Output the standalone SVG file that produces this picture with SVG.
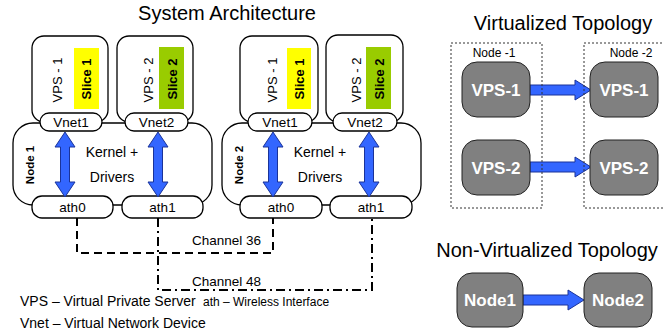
<svg xmlns="http://www.w3.org/2000/svg" width="663" height="335" viewBox="0 0 663 335">
<style>
text{font-family:"Liberation Sans",Arial,sans-serif;fill:#000}
.title{font-size:20px;text-anchor:middle}
.box{fill:#fff;stroke:#000;stroke-width:1.3}
.lbl{font-size:13.5px;text-anchor:middle}
.vert{font-size:13px;text-anchor:middle}
.slice{font-size:13px;font-weight:bold;text-anchor:middle}
.nodelbl{font-size:11.5px;font-weight:bold;text-anchor:middle}
.arrow{fill:#3366FF;stroke:#1a3399;stroke-width:1}
.gnode{fill:#808080;stroke:#222;stroke-width:1}
.gtxt{font-size:17px;font-weight:bold;fill:#fff;text-anchor:middle}
.dashbox{fill:none;stroke:#333;stroke-width:1;stroke-dasharray:2,2}
.ch36{fill:none;stroke:#000;stroke-width:2;stroke-dasharray:8,5}
.ch48{fill:none;stroke:#000;stroke-width:2;stroke-dasharray:9,4,2,4}
.leg{font-size:14px}
.small{font-size:12px;text-anchor:middle}
</style>
<defs>
<path id="darr" d="M0,132 L10,147 L4.5,147 L4.5,182 L10,182 L0,197 L-10,182 L-4.5,182 L-4.5,147 L-10,147 Z"/>
</defs>

<text class="title" x="227" y="20">System Architecture</text>
<text class="title" x="563" y="30">Virtualized Topology</text>
<text class="title" x="547" y="257">Non-Virtualized Topology</text>

<g id="connectors">
<path class="ch36" d="M77,218 V253 H273 V218"/>
<path class="ch48" d="M158,218 V290 H372 V218"/>
<text class="lbl" x="192" y="245" style="text-anchor:start">Channel 36</text>
<text class="lbl" x="192" y="286" style="text-anchor:start">Channel 48</text>
<path class="arrow" d="M530,85 H575 V80 L591,90 L575,100 V95 H530 Z"/>
<path class="arrow" d="M530,162 H575 V157 L591,167 L575,177 V172 H530 Z"/>
<path class="arrow" d="M523,295 H568 V290 L584,300 L568,310 V305 H523 Z"/>
</g>

<g id="node1">
<rect class="box" x="13" y="123" width="199" height="82" rx="20"/>
<rect class="box" x="32" y="36" width="76" height="86" rx="12"/>
<rect x="74" y="48" width="25" height="61" fill="#FFFF00"/>
<text class="vert" transform="translate(57,80) rotate(-90)" dy="0.35em">VPS - 1</text>
<text class="slice" transform="translate(86.5,79) rotate(-90)" dy="0.35em">Slice 1</text>
<rect class="box" x="117" y="36" width="76" height="86" rx="12"/>
<rect x="159" y="47" width="25" height="62" fill="#99CC00"/>
<text class="vert" transform="translate(148,80) rotate(-90)" dy="0.35em">VPS - 2</text>
<text class="slice" transform="translate(172,79) rotate(-90)" dy="0.35em">Slice 2</text>
<rect class="box" x="40" y="113" width="62" height="18" rx="9"/>
<text class="lbl" x="71" y="127">Vnet1</text>
<rect class="box" x="125" y="113" width="63" height="18" rx="9"/>
<text class="lbl" x="156.5" y="127">Vnet2</text>
<rect class="box" x="32" y="196" width="81" height="22" rx="10"/>
<text class="lbl" x="72.5" y="212">ath0</text>
<rect class="box" x="122" y="196" width="81" height="22" rx="10"/>
<text class="lbl" x="162.5" y="212">ath1</text>
<use href="#darr" x="65" class="arrow"/>
<use href="#darr" x="158" class="arrow"/>
<text class="lbl" x="112" y="157" style="font-size:14px">Kernel +</text>
<text class="lbl" x="112" y="182" style="font-size:14px">Drivers</text>
<text class="nodelbl" transform="translate(30,165) rotate(-90)" dy="0.35em">Node 1</text>
</g>

<g id="node2">
<rect class="box" x="222" y="123" width="199" height="82" rx="20"/>
<rect class="box" x="240" y="36" width="78" height="86" rx="12"/>
<rect x="287" y="48" width="24" height="61" fill="#FFFF00"/>
<text class="vert" transform="translate(272,80) rotate(-90)" dy="0.35em">VPS - 1</text>
<text class="slice" transform="translate(299,79) rotate(-90)" dy="0.35em">Slice 1</text>
<rect class="box" x="326" y="35" width="77" height="87" rx="12"/>
<rect x="366" y="47" width="25" height="62" fill="#99CC00"/>
<text class="vert" transform="translate(356,80) rotate(-90)" dy="0.35em">VPS - 2</text>
<text class="slice" transform="translate(379,79) rotate(-90)" dy="0.35em">Slice 2</text>
<rect class="box" x="248" y="113" width="64" height="18" rx="9"/>
<text class="lbl" x="280" y="127">Vnet1</text>
<rect class="box" x="333" y="113" width="64" height="18" rx="9"/>
<text class="lbl" x="365" y="127">Vnet2</text>
<rect class="box" x="240" y="196" width="82" height="22" rx="10"/>
<text class="lbl" x="281" y="212">ath0</text>
<rect class="box" x="330" y="196" width="82" height="22" rx="10"/>
<text class="lbl" x="371" y="212">ath1</text>
<use href="#darr" x="273" class="arrow"/>
<use href="#darr" x="369" class="arrow"/>
<text class="lbl" x="320" y="157" style="font-size:14px">Kernel +</text>
<text class="lbl" x="320" y="182" style="font-size:14px">Drivers</text>
<text class="nodelbl" transform="translate(239,165) rotate(-90)" dy="0.35em">Node 2</text>
</g>

<g id="legend">
<text class="leg" x="20" y="306">VPS – Virtual Private Server</text>
<text x="203" y="306" style="font-size:12px">ath – Wireless Interface</text>
<text class="leg" x="20" y="328">Vnet – Virtual Network Device</text>
</g>

<g id="v-node1-vps1"><rect class="gnode" x="462" y="62" width="68" height="55" rx="15"/><text class="gtxt" x="496" y="96">VPS-1</text></g>
<g id="v-node1-vps2"><rect class="gnode" x="462" y="140" width="68" height="55" rx="15"/><text class="gtxt" x="496" y="174">VPS-2</text></g>
<g id="v-node2-vps1"><rect class="gnode" x="590" y="62" width="68" height="55" rx="15"/><text class="gtxt" x="624" y="96">VPS-1</text></g>
<g id="v-node2-vps2"><rect class="gnode" x="590" y="140" width="68" height="55" rx="15"/><text class="gtxt" x="624" y="174">VPS-2</text></g>
<g id="v-node1">
<rect class="dashbox" x="451" y="43" width="91" height="165"/>
<text class="small" x="494" y="57">Node -1</text>
</g>
<g id="v-node2">
<rect class="dashbox" x="584" y="43" width="85" height="165"/>
<text class="small" x="631" y="57">Node -2</text>
</g>

<g id="nv-node1"><rect class="gnode" x="457" y="273" width="66" height="54" rx="15"/><text class="gtxt" x="490" y="306">Node1</text></g>
<g id="nv-node2"><rect class="gnode" x="584" y="273" width="68" height="54" rx="15"/><text class="gtxt" x="618" y="306">Node2</text></g>
</svg>
